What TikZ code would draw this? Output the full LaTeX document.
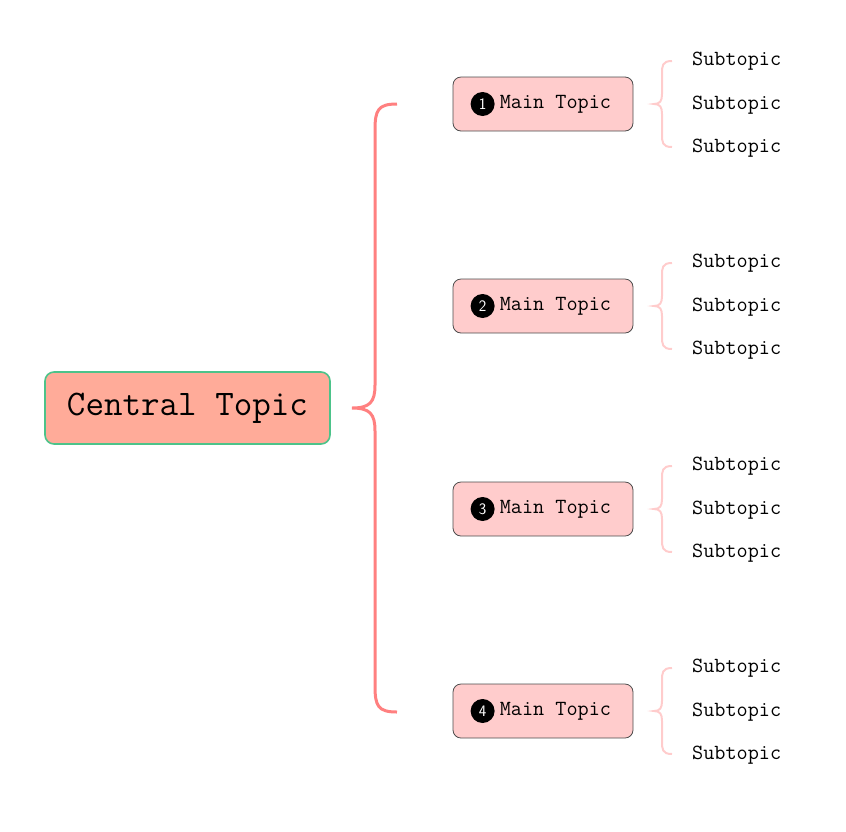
\documentclass[tikz,border=0pt]{standalone}
\usetikzlibrary{calc}
\definecolor{central}{HTML}{FFAB99}
\definecolor{cborder}{HTML}{4CC38A}
\definecolor{brace}{HTML}{FF8080}
\definecolor{mainfill}{HTML}{FFCCCC}
\begin{document}
\begin{tikzpicture}[x=1pt,y=-1pt,
  maintopic/.style={draw=black!70,fill=mainfill,rounded corners=8pt,minimum width=180pt,minimum height=54pt,line width=0.8pt,inner sep=0pt},
  mtext/.style={anchor=west,inner sep=0pt,font=\ttfamily\fontsize{21.6}{23}\selectfont},
  num/.style={circle,fill=black,text=white,inner sep=0pt,minimum size=24pt,font=\sffamily\fontsize{16}{16}\selectfont},
  sub/.style={anchor=west,font=\ttfamily\fontsize{21.6}{23}\selectfont,inner sep=0pt}]
\useasboundingbox (0,0) rectangle (846,831);
\node[draw=cborder,fill=central,rounded corners=9pt,line width=1.6pt,minimum width=285pt,minimum height=72pt,font=\ttfamily\fontsize{36}{38}\selectfont] (c) at (187.5,408) {Central Topic};
\coordinate (b1) at (397,104);
\coordinate (b2) at (397,712);
\draw[brace,line width=3pt] (b1) .. controls (378,104) and (375,110) .. (375,130) -- (375,385) .. controls (375,402) and (370,408) .. (352,408) .. controls (370,408) and (375,414) .. (375,431) -- (375,686) .. controls (375,706) and (378,712) .. (b2);
\foreach \i/\y in {1/104,2/306,3/509,4/711}{
  \node[maintopic] (m\i) at (543,\y) {};
  \node[num] (n\i) at ($(m\i.west)+(30,0)$) {\i};
  \node[mtext] (t\i) at ($(m\i.west)+(47,0.5)$) {Main Topic};
  \draw[mainfill,line width=2pt] (672,\y-43) .. controls (662,\y-43) and (662,\y-38) .. (662,\y-30) -- (662,\y-10) .. controls (662,\y-3) and (660,\y) .. (654,\y) .. controls (660,\y) and (662,\y+3) .. (662,\y+10) -- (662,\y+30) .. controls (662,\y+38) and (662,\y+43) .. (672,\y+43);
  \node[sub] (s\i a) at (692,\y-43) {Subtopic};
  \node[sub] (s\i b) at (692,\y+1) {Subtopic};
  \node[sub] (s\i c) at (692,\y+44) {Subtopic};
}
\end{tikzpicture}
\end{document}
